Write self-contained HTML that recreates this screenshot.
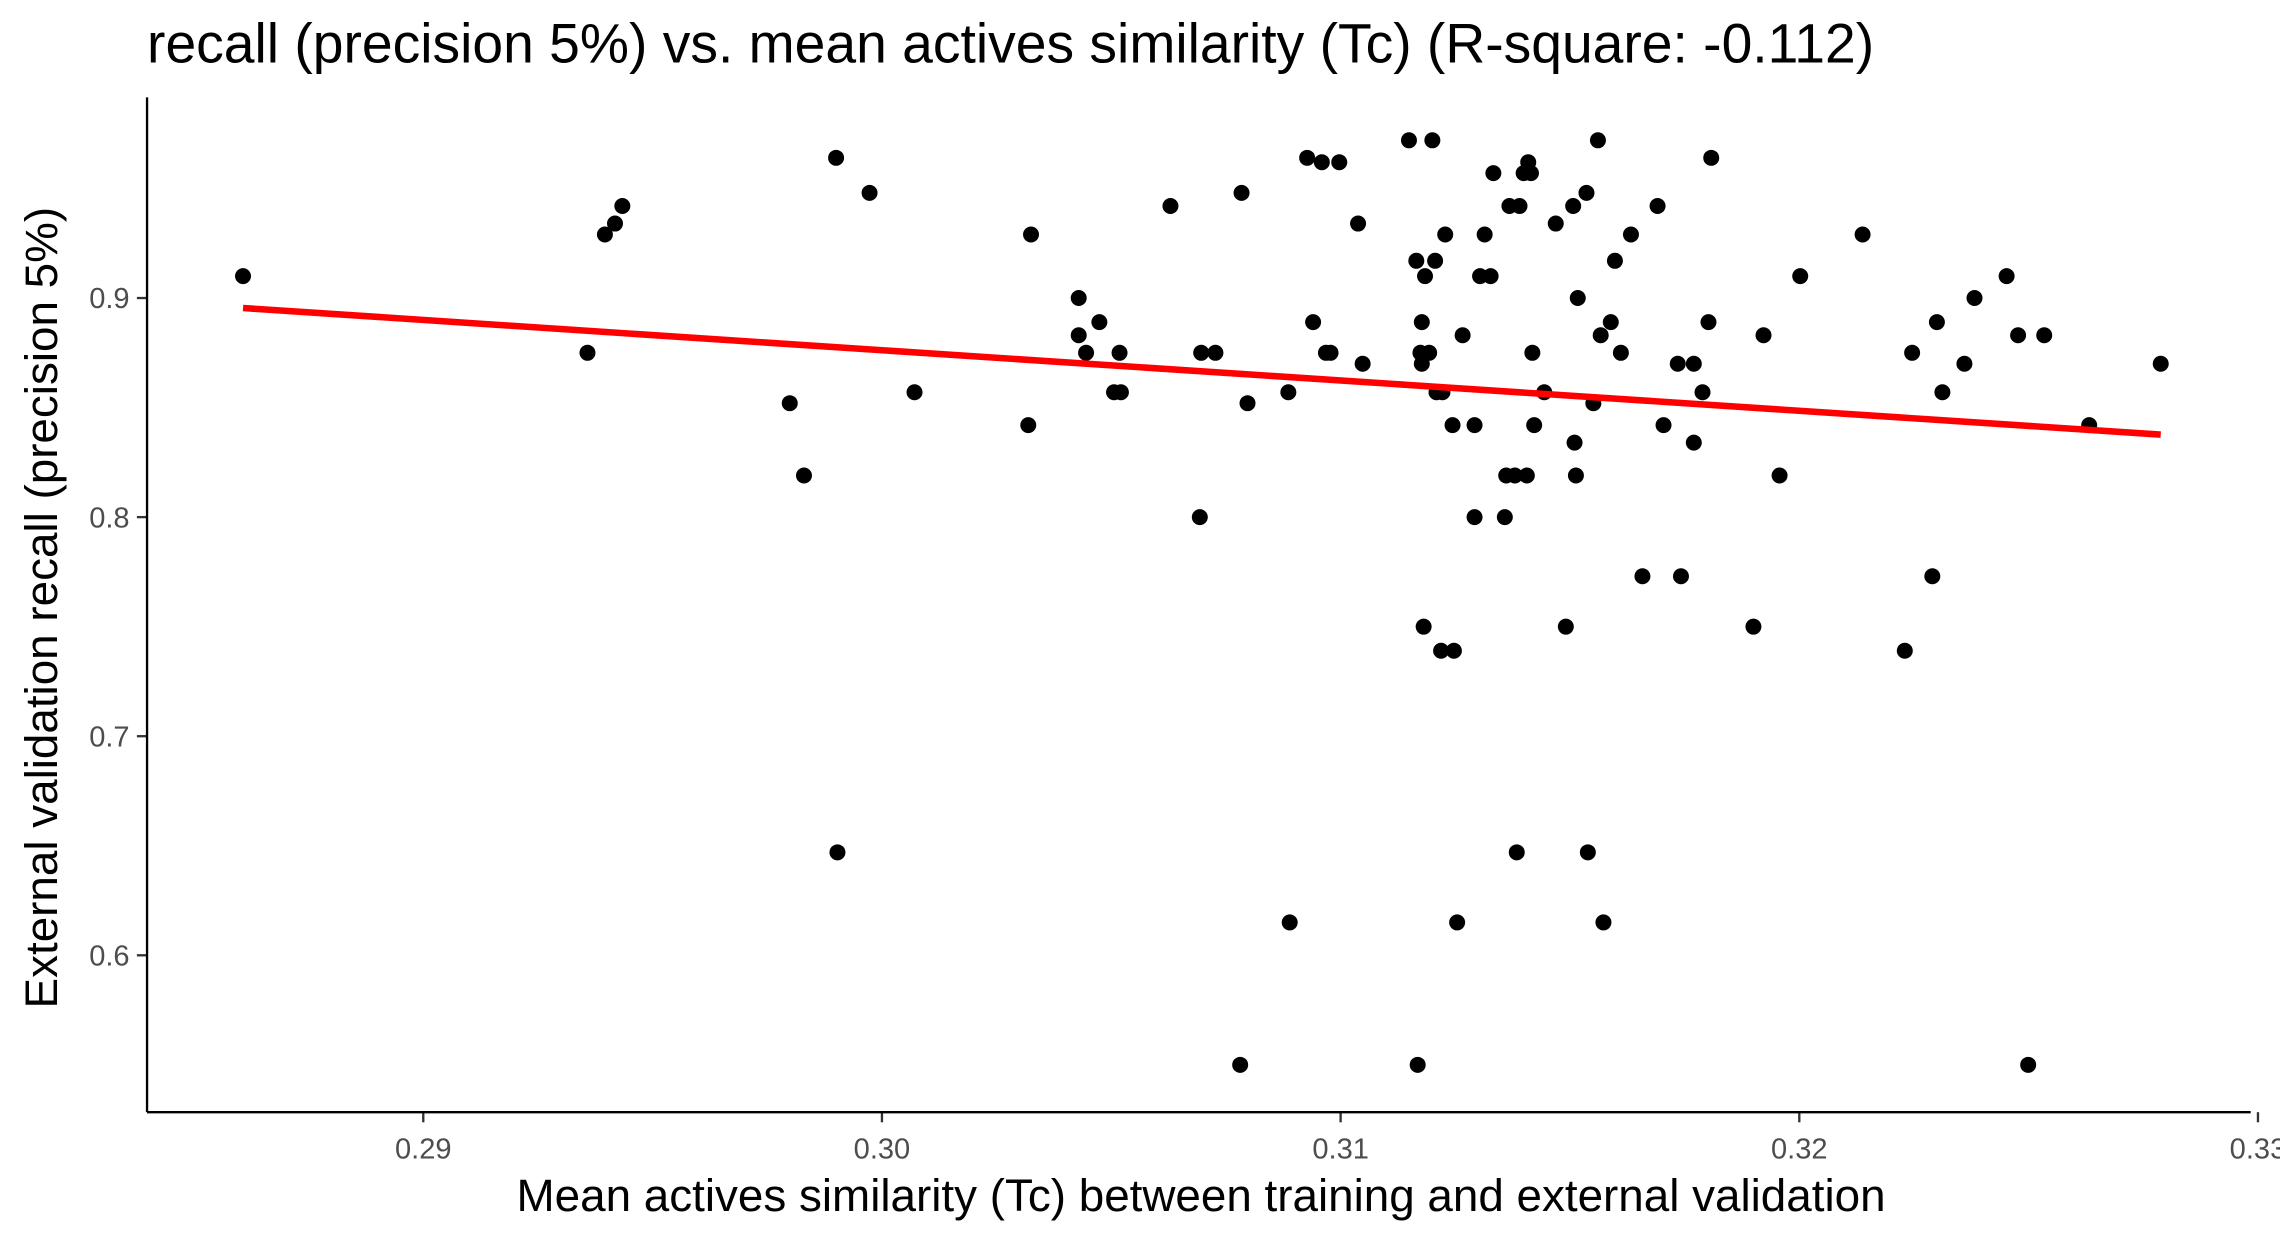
<!DOCTYPE html>
<html><head><meta charset="utf-8"><style>
html,body{margin:0;padding:0;background:#fff;}
svg{display:block;font-family:"Liberation Sans",Arial,sans-serif;}
</style></head><body>
<svg width="2280" height="1243" viewBox="0 0 1568 855" id="chart">
<rect x="0" y="0" width="1568" height="855" fill="#fff"/>
<text x="101" y="43" font-size="38" fill="#000">recall (precision 5%) vs. mean actives similarity (Tc) (R-square: -0.112)</text>
<g id="ticks"></g>
<g id="points"></g>
<g id="fit"></g>
<line x1="101" y1="67" x2="101" y2="765" stroke="#000" stroke-width="1.6"/>
<line x1="101" y1="765" x2="1548" y2="765" stroke="#000" stroke-width="1.6"/>
<text x="826" y="833" font-size="31.5" text-anchor="middle" fill="#000">Mean actives similarity (Tc) between training and external validation</text>
<text transform="translate(39,418) rotate(-90)" font-size="31.5" text-anchor="middle" fill="#000">External validation recall (precision 5%)</text>
</svg>
<script>
const xTicks=[0.29,0.30,0.31,0.32,0.33];
const xTickLabels=["0.29","0.30","0.31","0.32","0.33"];
const yTicks=[0.6,0.7,0.8,0.9];
const yTickLabels=["0.6","0.7","0.8","0.9"];
const xVals=[0.28607,0.29358,0.29396,0.29418,0.29434,0.29799,0.29830,0.29900,0.29903,0.29973,0.30071,0.30319,0.30325,0.30429,0.30429,0.30445,0.30474,0.30506,0.30518,0.30521,0.30629,0.30693,0.30696,0.30727,0.30781,0.30784,0.30797,0.30886,0.30889,0.30927,0.30940,0.30959,0.30968,0.30978,0.30997,0.31038,0.31048,0.31149,0.31165,0.31168,0.31174,0.31177,0.31177,0.31181,0.31184,0.31193,0.31200,0.31206,0.31209,0.31222,0.31219,0.31247,0.31228,0.31244,0.31254,0.31266,0.31292,0.31292,0.31304,0.31327,0.31314,0.31333,0.31358,0.31361,0.31380,0.31368,0.31390,0.31384,0.31399,0.31415,0.31406,0.31409,0.31418,0.31422,0.31444,0.31469,0.31491,0.31507,0.31510,0.31513,0.31517,0.31536,0.31539,0.31551,0.31561,0.31567,0.31573,0.31589,0.31598,0.31611,0.31633,0.31658,0.31691,0.31704,0.31735,0.31742,0.31770,0.31770,0.31789,0.31802,0.31808,0.31900,0.31922,0.31957,0.32002,0.32138,0.32230,0.32246,0.32290,0.32300,0.32312,0.32360,0.32382,0.32452,0.32477,0.32499,0.32534,0.32632,0.32788];
const yVals=[0.910,0.875,0.929,0.934,0.942,0.852,0.819,0.964,0.647,0.948,0.857,0.842,0.929,0.900,0.883,0.875,0.889,0.857,0.875,0.857,0.942,0.800,0.875,0.875,0.550,0.948,0.852,0.857,0.615,0.964,0.889,0.962,0.875,0.875,0.962,0.934,0.870,0.972,0.917,0.550,0.875,0.870,0.889,0.750,0.910,0.875,0.972,0.917,0.857,0.857,0.739,0.739,0.929,0.842,0.615,0.883,0.842,0.800,0.910,0.910,0.929,0.957,0.800,0.819,0.819,0.942,0.942,0.647,0.957,0.957,0.819,0.962,0.875,0.842,0.857,0.934,0.750,0.942,0.834,0.819,0.900,0.948,0.647,0.852,0.972,0.883,0.615,0.889,0.917,0.875,0.929,0.773,0.942,0.842,0.870,0.773,0.870,0.834,0.857,0.889,0.964,0.750,0.883,0.819,0.910,0.929,0.739,0.875,0.773,0.889,0.857,0.870,0.900,0.910,0.883,0.550,0.883,0.842,0.870];
const fitIntercept=0.890; // y at x=0.29
const fitSlope=-1.382;
const fitRange=[0.28607,0.32788];

const NS="http://www.w3.org/2000/svg";
const xS=v=>291+(v-0.29)*31550;
const yS=v=>205+(0.9-v)*1507;
function mk(tag,attrs,parent){const e=document.createElementNS(NS,tag);for(const k in attrs)e.setAttribute(k,attrs[k]);parent.appendChild(e);return e;}
const tg=document.getElementById('ticks');
xTicks.forEach((t,i)=>{
 const l=mk('line',{x1:xS(t),x2:xS(t),y1:765,y2:772,stroke:'#333','stroke-width':1.6},tg);
 
 
 const tx=mk('text',{x:xS(t),y:797,'font-size':20,'text-anchor':'middle',fill:'#4d4d4d'},tg);
 tx.textContent=xTickLabels[i];
 
 
});
yTicks.forEach((t,i)=>{
 const l=mk('line',{x1:94,x2:101,y1:yS(t),y2:yS(t),stroke:'#333','stroke-width':1.6},tg);
 
 
 const tx=mk('text',{x:89,y:yS(t)+7,'font-size':20,'text-anchor':'end',fill:'#4d4d4d'},tg);
 tx.textContent=yTickLabels[i];
 
 
});
const pg=document.getElementById('points');
xVals.forEach((x,i)=>{
 const c=mk('circle',{cx:xS(x),cy:yS(yVals[i]),r:5.5,fill:'#000'},pg);
 
 
});
const fy=x=>fitIntercept+fitSlope*(x-0.29);
const fl=mk('line',{x1:xS(fitRange[0]),y1:yS(fy(fitRange[0])),x2:xS(fitRange[1]),y2:yS(fy(fitRange[1])),stroke:'#ff0000','stroke-width':4.5},document.getElementById('fit'));


</script>
</body></html>
